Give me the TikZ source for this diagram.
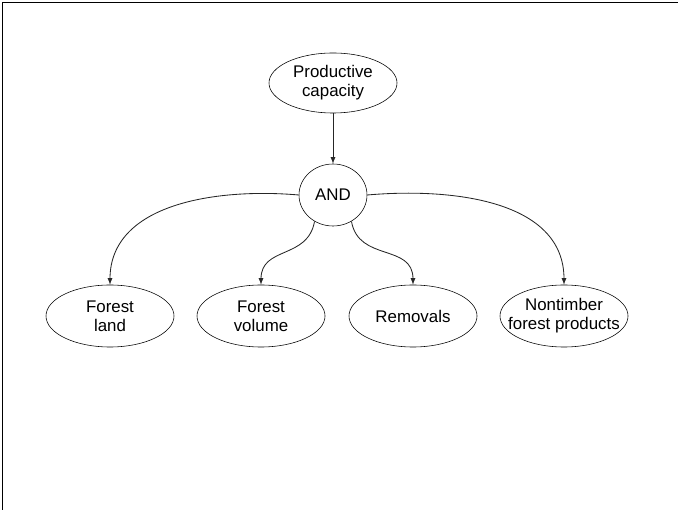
\documentclass[tikz,border=0pt]{standalone}
\usepackage{fontspec}
\setmainfont{Liberation Sans}
\usepackage{tikz}

\tikzset{
    oval/.style={ellipse, draw, inner sep=1pt, minimum width=3.2cm,
        minimum height=1.55cm, align=center, font=\fontsize{12}{13.5}\selectfont},
    andnode/.style={oval, minimum width=1.7cm, minimum height=1.55cm},
    link/.style={semithick, draw=black!85, -latex}
}
\usetikzlibrary{shapes.geometric}

\begin{document}
\begin{tikzpicture}[x=0.025cm, y=-0.025cm]
\useasboundingbox (0,0) rectangle (678,510);

% frame
\draw[line width=1pt] (2.5,510) -- (2.5,2.5) -- (678,2.5);

\node[oval, minimum height=1.5cm] (pc) at (333,83) {Productive\\capacity};
\node[andnode] (and) at (333,195) {AND};

\node[oval] (fl) at (110,316) {Forest\\land};
\node[oval] (fv) at (261,316) {Forest\\volume};
\node[oval] (rm) at (413,316) {Removals};
\node[oval] (nt) at (564,316) {\makebox[0pt]{Nontimber}\\\makebox[0pt]{forest products}};

\draw[link] (pc.south)--(and.north);

\draw[link] (and.west) to[out=175, in=90] (fl.north);
\draw[link] (and.-125) to[out=-100, in=90, looseness=1.2] (fv.north);
\draw[link] (and.-55) to[out=-80, in=90, looseness=1.2] (rm.north);
\draw[link] (and.east) to[out=5, in=90] (nt.north);

\end{tikzpicture}
\end{document}
